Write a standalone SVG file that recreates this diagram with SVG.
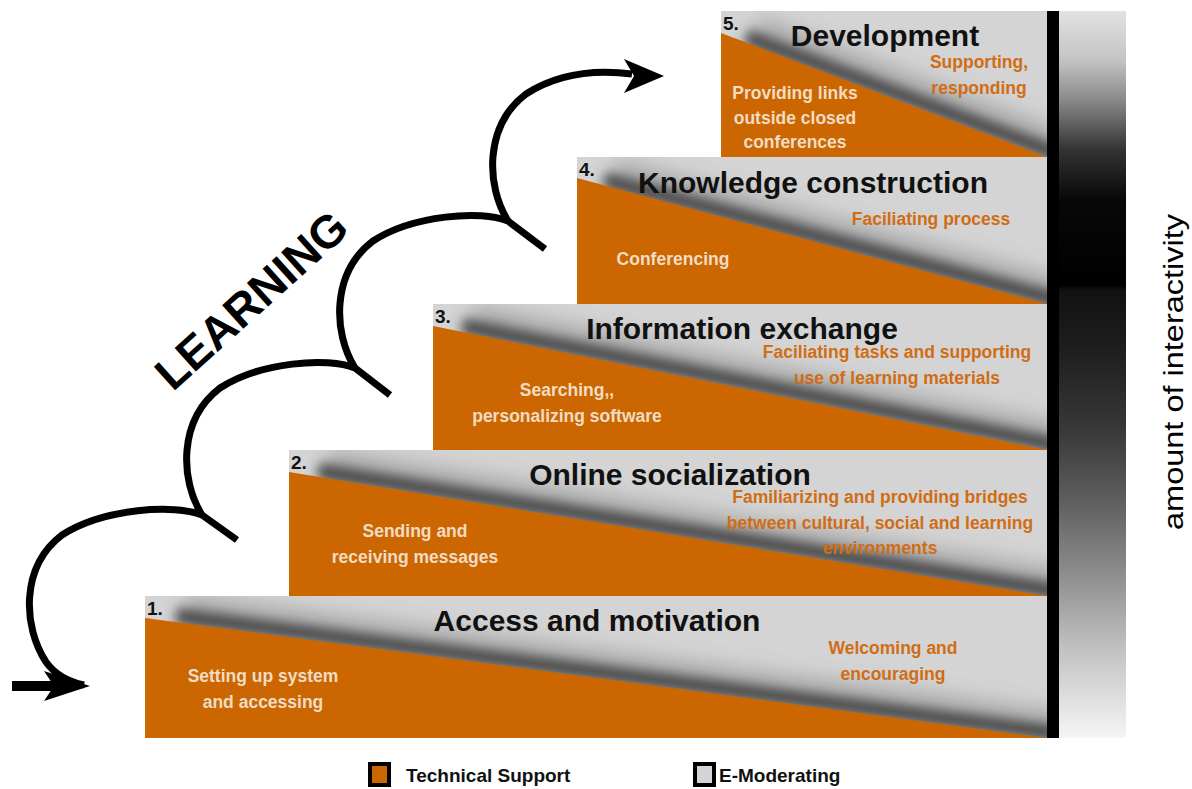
<svg xmlns="http://www.w3.org/2000/svg" width="1192" height="789" viewBox="0 0 1192 789">
<style>
text{font-family:"Liberation Sans",Arial,sans-serif;font-weight:bold}
.title{font-size:30px;fill:#111;text-anchor:middle}
.num{font-size:19px;fill:#111}
.tech{font-size:17.5px;fill:#f2dcc4;text-anchor:middle}
.emod{font-size:17.5px;fill:#d06d14;text-anchor:middle}
.legend{font-size:19px;fill:#111}
.box{fill:#d4d4d4}
.orange{fill:#cc6600}
.shadow{stroke:#4a4a4a;stroke-width:16;fill:none;filter:url(#blur)}
.halo{stroke:#6a6a6a;stroke-width:30;stroke-opacity:0.35;fill:none;filter:url(#blur2)}
.arc{fill:none;stroke:#000;stroke-width:7}
</style>
<defs>
<filter id="blur" filterUnits="userSpaceOnUse" x="0" y="0" width="1192" height="789"><feGaussianBlur stdDeviation="6"/></filter>
<filter id="blur2" filterUnits="userSpaceOnUse" x="0" y="0" width="1192" height="789"><feGaussianBlur stdDeviation="9"/></filter>
<clipPath id="c1"><rect x="145" y="596" width="902" height="142"/></clipPath>
<clipPath id="c2"><rect x="289" y="450" width="758" height="146"/></clipPath>
<clipPath id="c3"><rect x="433" y="304" width="614" height="146"/></clipPath>
<clipPath id="c4"><rect x="577" y="157" width="470" height="147"/></clipPath>
<clipPath id="c5"><rect x="721" y="11" width="326" height="146"/></clipPath>
<linearGradient id="inter" x1="0" y1="0" x2="0" y2="1">
<stop offset="0" stop-color="#e2e2e2"/>
<stop offset="0.067" stop-color="#c4c4c4"/>
<stop offset="0.122" stop-color="#8a8a8a"/>
<stop offset="0.191" stop-color="#333"/>
<stop offset="0.26" stop-color="#080808"/>
<stop offset="0.377" stop-color="#000"/>
<stop offset="0.384" stop-color="#111"/>
<stop offset="0.466" stop-color="#1e1e1e"/>
<stop offset="0.576" stop-color="#383838"/>
<stop offset="0.673" stop-color="#5e5e5e"/>
<stop offset="0.783" stop-color="#929292"/>
<stop offset="0.879" stop-color="#c2c2c2"/>
<stop offset="1" stop-color="#f6f6f6"/>
</linearGradient>
</defs>
<rect width="1192" height="789" fill="#fff"/>

<g id="step1">
<rect class="box" x="145" y="596" width="902" height="142"/>
<line class="halo" clip-path="url(#c1)" x1="185" y1="608" x2="1060" y2="724"/>
<line class="shadow" clip-path="url(#c1)" x1="176" y1="616" x2="1060" y2="734"/>
<polygon class="orange" points="145,618 1047,738 145,738"/>
<text class="num" x="147" y="615">1.</text>
<text class="title" x="597" y="631">Access and motivation</text>
<text class="emod" x="893" y="654">Welcoming and</text>
<text class="emod" x="893" y="680">encouraging</text>
<text class="tech" x="263" y="682">Setting up system</text>
<text class="tech" x="263" y="708">and accessing</text>
</g>

<g id="step2">
<rect class="box" x="289" y="450" width="758" height="146"/>
<line class="halo" clip-path="url(#c2)" x1="328" y1="463" x2="1060" y2="582"/>
<line class="shadow" clip-path="url(#c2)" x1="318" y1="471" x2="1060" y2="592"/>
<polygon class="orange" points="289,472 1047,596 289,596"/>
<text class="num" x="291" y="469">2.</text>
<text class="title" x="670" y="485">Online socialization</text>
<text class="emod" x="880" y="503">Familiarizing and providing bridges</text>
<text class="emod" x="880" y="529">between cultural, social and learning</text>
<text class="emod" x="880" y="554">environments</text>
<text class="tech" x="415" y="537">Sending and</text>
<text class="tech" x="415" y="563">receiving messages</text>
</g>

<g id="step3">
<rect class="box" x="433" y="304" width="614" height="146"/>
<line class="halo" clip-path="url(#c3)" x1="472" y1="318" x2="1060" y2="436"/>
<line class="shadow" clip-path="url(#c3)" x1="462" y1="326" x2="1060" y2="446"/>
<polygon class="orange" points="433,326 1047,450 433,450"/>
<text class="num" x="435" y="323">3.</text>
<text class="title" x="742" y="339">Information exchange</text>
<text class="emod" x="897" y="358">Faciliating tasks and supporting</text>
<text class="emod" x="897" y="384">use of learning materials</text>
<text class="tech" x="567" y="396">Searching,,</text>
<text class="tech" x="567" y="422">personalizing software</text>
</g>

<g id="step4">
<rect class="box" x="577" y="157" width="470" height="147"/>
<line class="halo" clip-path="url(#c4)" x1="614" y1="172" x2="1060" y2="291"/>
<line class="shadow" clip-path="url(#c4)" x1="604" y1="180" x2="1060" y2="301"/>
<polygon class="orange" points="577,178 1047,304 577,304"/>
<text class="num" x="579" y="176">4.</text>
<text class="title" x="813" y="193">Knowledge construction</text>
<text class="emod" x="931" y="225">Faciliating process</text>
<text class="tech" x="673" y="265">Conferencing</text>
</g>

<g id="step5">
<rect class="box" x="721" y="11" width="326" height="146"/>
<line class="halo" clip-path="url(#c5)" x1="756" y1="29" x2="1060" y2="144"/>
<line class="shadow" clip-path="url(#c5)" x1="746" y1="37" x2="1060" y2="155"/>
<polygon class="orange" points="721,33 1047,157 721,157"/>
<text class="num" x="723" y="30">5.</text>
<text class="title" x="885" y="46">Development</text>
<text class="emod" x="979" y="68">Supporting,</text>
<text class="emod" x="979" y="94">responding</text>
<text class="tech" x="795" y="99">Providing links</text>
<text class="tech" x="795" y="124">outside closed</text>
<text class="tech" x="795" y="148">conferences</text>
</g>

<g id="interactivity">
<rect x="1047" y="11" width="12" height="727" fill="#000"/>
<rect x="1059" y="11" width="67" height="727" fill="url(#inter)"/>
<text transform="translate(1183,372) rotate(-90)" text-anchor="middle" style="font-weight:normal;font-size:27px;fill:#000" textLength="316" lengthAdjust="spacingAndGlyphs">amount of interactivity</text>
</g>

<g id="learning">
<text transform="translate(262,312) rotate(-42)" text-anchor="middle" style="font-size:46px;fill:#000">LEARNING</text>
</g>

<g id="connectors">
<rect x="12" y="681" width="44" height="10" fill="#000"/>
<polygon points="44,671 90,686 44,701 54,686" fill="#000"/>
<path class="arc" d="M237,540 L202,515 C175,504 104,508 62,535 C20,567 23,627 46,662 C56,676 70,682 84,685"/>
<path class="arc" d="M202,515 C180,480 178,420 220,388 C260,362 328,357 355,368 L390,395"/>
<path class="arc" d="M355,368 C333,333 331,273 373,241 C413,215 481,210 508,221 L545,249"/>
<path class="arc" d="M508,221 C486,186 484,126 526,94 C560,72 600,70 632,74"/>
<polygon points="624,59 664,76 624,93 634,76" fill="#000"/>
</g>

<g id="legend">
<rect x="370" y="764" width="19" height="21" fill="#cc6600" stroke="#000" stroke-width="4"/>
<text class="legend" x="406" y="782">Technical Support</text>
<rect x="695" y="764" width="19" height="21" fill="#d4d4d4" stroke="#000" stroke-width="4"/>
<text class="legend" x="719" y="782">E-Moderating</text>
</g>
</svg>
